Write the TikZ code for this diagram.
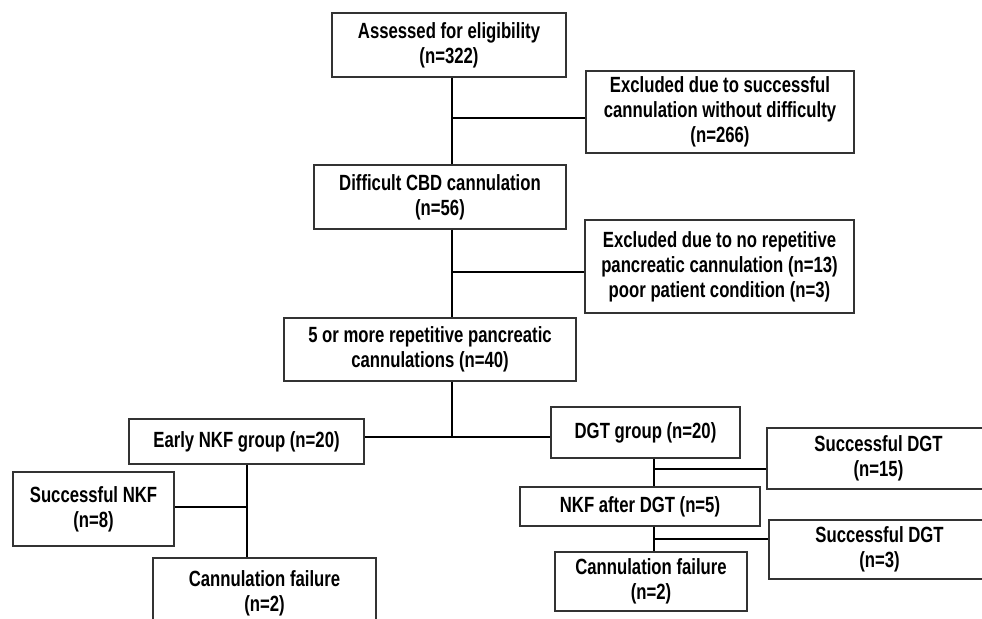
\documentclass[tikz,border=0pt]{standalone}
\usepackage{fontspec}
\setmainfont{Liberation Sans}[FakeStretch=0.76]
\usepackage{tikz}
\usetikzlibrary{positioning}

\begin{document}
\begin{tikzpicture}[x=0.5pt, y=-0.5pt,
    every node/.style={font=\fontsize{11}{12.5}\selectfont\bfseries, align=center, inner sep=0pt},
    box/.style={draw=black!80, line width=0.6pt},
    conn/.style={line width=1pt, black}]
            \useasboundingbox (0,0) rectangle (982,619);
            \clip (0,0) rectangle (982,619);

            \node[box, minimum width=117pt, minimum height=32pt] (assess) at (449,45) {Assessed for eligibility\\(n=322)};
            \node[box, minimum width=134pt, minimum height=41pt] (excl1) at (720,112) {Excluded due to successful\\cannulation without difficulty\\(n=266)};
            \node[box, minimum width=126pt, minimum height=32pt] (cbd) at (440,197) {Difficult CBD cannulation\\(n=56)};
            \node[box, minimum width=134.5pt, minimum height=46.5pt] (excl2) at (719.5,266.5) {Excluded due to no repetitive\\pancreatic cannulation (n=13)\\poor patient condition (n=3)};
            \node[box, minimum width=146pt, minimum height=31.5pt] (rep) at (430,349.5) {5 or more repetitive pancreatic\\cannulations (n=40)};
            \node[box, minimum width=117.5pt, minimum height=22.5pt] (early) at (246.5,441.5) {Early NKF group (n=20)};
            \node[box, minimum width=94.5pt, minimum height=25.5pt] (dgt) at (645.5,432.5) {DGT group (n=20)};
            \node[box, minimum width=111.5pt, minimum height=30.5pt] (succdgt1) at (878.5,458.5) {Successful DGT\\(n=15)};
            \node[box, minimum width=120pt, minimum height=19.5pt] (nkfdgt) at (640,506.5) {NKF after DGT (n=5)};
            \node[box, minimum width=110.5pt, minimum height=29.5pt] (succdgt2) at (879.5,549.5) {Successful DGT\\(n=3)};
            \node[box, minimum width=96pt, minimum height=29.5pt] (failR) at (651,581.5) {Cannulation failure\\(n=2)};
            \node[box, minimum width=80.5pt, minimum height=37pt] (succnkf) at (93.5,509) {Successful NKF\\(n=8)};
            \node[box, minimum width=111.5pt, minimum height=35pt] (failL) at (264.5,593) {Cannulation failure\\(n=2)};

            \coordinate (j1) at (452,118);
            \coordinate (j2) at (452,272);
            \coordinate (j3) at (452,437);
            \coordinate (j4) at (654,469);
            \coordinate (j5) at (654,539);
            \coordinate (j6) at (247,507);

            \draw[conn] (assess.south -| j1) -- (cbd.north -| j1);
            \draw[conn] (j1) -- (j1 -| excl1.west);
            \draw[conn] (cbd.south -| j2) -- (rep.north -| j2);
            \draw[conn] (j2) -- (j2 -| excl2.west);
            \draw[conn] (rep.south -| j3) -- (j3);
            \draw[conn] (early.east |- j3) -- (dgt.west |- j3);
            \draw[conn] (dgt.south -| j4) -- (nkfdgt.north -| j4);
            \draw[conn] (j4) -- (j4 -| succdgt1.west);
            \draw[conn] (nkfdgt.south -| j5) -- (failR.north -| j5);
            \draw[conn] (j5) -- (j5 -| succdgt2.west);
            \draw[conn] (early.south -| j6) -- (failL.north -| j6);
            \draw[conn] (j6) -- (j6 -| succnkf.east);
        \end{tikzpicture}
\end{document}
